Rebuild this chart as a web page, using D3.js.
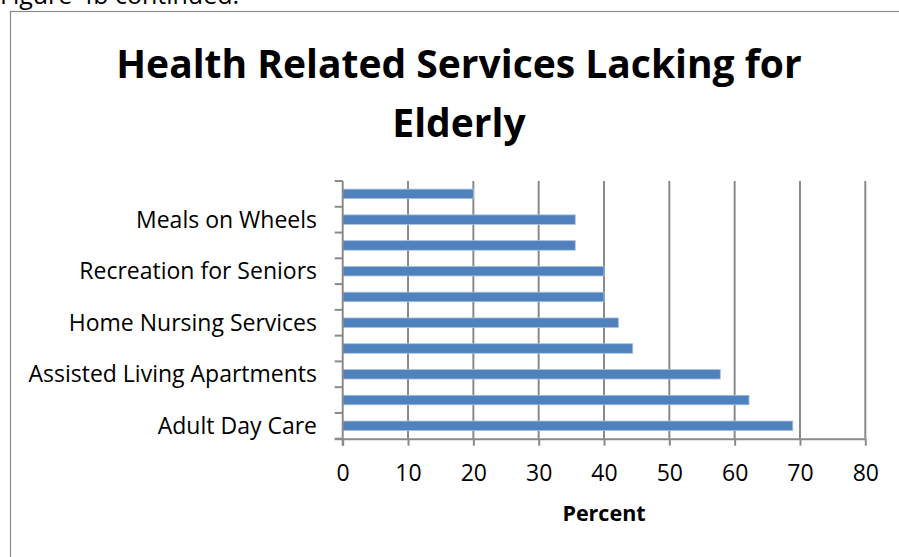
<!DOCTYPE html>
<html>
<head>
<meta charset="utf-8">
<script src="https://cdn.jsdelivr.net/npm/d3@7"></script>
<style>
  html, body { margin: 0; padding: 0; background: #fff; }
  svg { display: block; }
  text { font-family: "Open Sans", "Noto Sans", sans-serif; fill: #000; }
</style>
</head>
<body>
<svg id="chart" width="899" height="557"></svg>
<script>
// Services, listed bottom to top; only every other one carries a visible label.
const categories = [
  "Adult Day Care", "",
  "Assisted Living Apartments", "",
  "Home Nursing Services", "",
  "Recreation for Seniors", "",
  "Meals on Wheels", ""
];
// Percent of respondents reporting each service as lacking (same order).
const percents = [68.9, 62.2, 57.8, 44.4, 42.2, 40.0, 40.0, 35.6, 35.6, 20.0];
const xTicks = [0, 10, 20, 30, 40, 50, 60, 70, 80];

const svg = d3.select("#chart");
const W = 899, H = 557;
const plot = { left: 342.7, right: 865.3, top: 181, bottom: 438.7 };

// Outer chart frame (extends past the page's right and bottom edges)
svg.append("rect")
  .attr("x", 10.5).attr("y", 11.5)
  .attr("width", W + 20).attr("height", H + 20)
  .attr("fill", "none").attr("stroke", "#8a8a8a").attr("stroke-width", 1.2);

// Caption line above the frame
svg.append("text")
  .attr("x", 0).attr("y", 4)
  .attr("font-size", 25)
  .text("Figure 4b continued:");

// Title
const title = svg.append("text")
  .attr("text-anchor", "middle")
  .attr("font-size", 39)
  .attr("font-weight", "bold");
title.append("tspan").attr("x", 459).attr("y", 78).text("Health Related Services Lacking for");
title.append("tspan").attr("x", 459).attr("y", 137).text("Elderly");

const x = d3.scaleLinear().domain([0, 80]).range([plot.left, plot.right]);
const y = d3.scaleBand()
  .domain(d3.range(categories.length))
  .range([plot.bottom, plot.top])
  .padding(0);

// Vertical gridlines
svg.append("g")
  .selectAll("line")
  .data(xTicks.filter(d => d > 0))
  .join("line")
  .attr("x1", d => x(d)).attr("x2", d => x(d))
  .attr("y1", plot.top).attr("y2", plot.bottom)
  .attr("stroke", "#8a8a8a").attr("stroke-width", 2);

// Bars
const barH = y.bandwidth() / 2.7;
svg.append("g")
  .selectAll("rect")
  .data(percents)
  .join("rect")
  .attr("x", x(0))
  .attr("y", (d, i) => y(i) + (y.bandwidth() - barH) / 2)
  .attr("width", d => x(d) - x(0))
  .attr("height", barH)
  .attr("fill", "#4F81BD")
  .attr("stroke", "#a9c2e0")
  .attr("stroke-width", 0.8);

// X axis
const xAxis = svg.append("g")
  .attr("transform", `translate(0,${plot.bottom})`)
  .call(d3.axisBottom(x).tickValues(xTicks).tickSize(7).tickPadding(19).tickSizeOuter(0));
xAxis.select(".domain")
  .attr("d", `M${plot.left - 8},0.5H${plot.right}`)
  .attr("stroke", "#8a8a8a").attr("stroke-width", 2);
xAxis.selectAll(".tick line").attr("stroke", "#8a8a8a").attr("stroke-width", 2);
xAxis.selectAll(".tick text")
  .attr("font-size", 23)
  .attr("font-family", "\"Open Sans\", \"Noto Sans\", sans-serif")
  .attr("fill", "#000");

// Y axis: line plus tick marks at category boundaries
const bounds = d3.range(categories.length + 1).map(i =>
  i < categories.length ? y(i) + y.bandwidth() : y(categories.length - 1));
const yAxis = svg.append("g");
yAxis.append("line")
  .attr("x1", plot.left).attr("x2", plot.left)
  .attr("y1", plot.top).attr("y2", plot.bottom + 7)
  .attr("stroke", "#8a8a8a").attr("stroke-width", 2);
yAxis.selectAll(".ytick")
  .data(bounds)
  .join("line")
  .attr("class", "ytick")
  .attr("x1", plot.left - 8).attr("x2", plot.left)
  .attr("y1", d => d).attr("y2", d => d)
  .attr("stroke", "#8a8a8a").attr("stroke-width", 2);

// Category labels
svg.append("g")
  .selectAll("text")
  .data(categories)
  .join("text")
  .attr("x", 317)
  .attr("y", (d, i) => y(i) + y.bandwidth() / 2)
  .attr("dy", "0.35em")
  .attr("text-anchor", "end")
  .attr("font-size", 23)
  .text(d => d);

// X axis title
svg.append("text")
  .attr("x", (plot.left + plot.right) / 2)
  .attr("y", 521)
  .attr("text-anchor", "middle")
  .attr("font-size", 21.5)
  .attr("font-weight", "bold")
  .text("Percent");
</script>
</body>
</html>
